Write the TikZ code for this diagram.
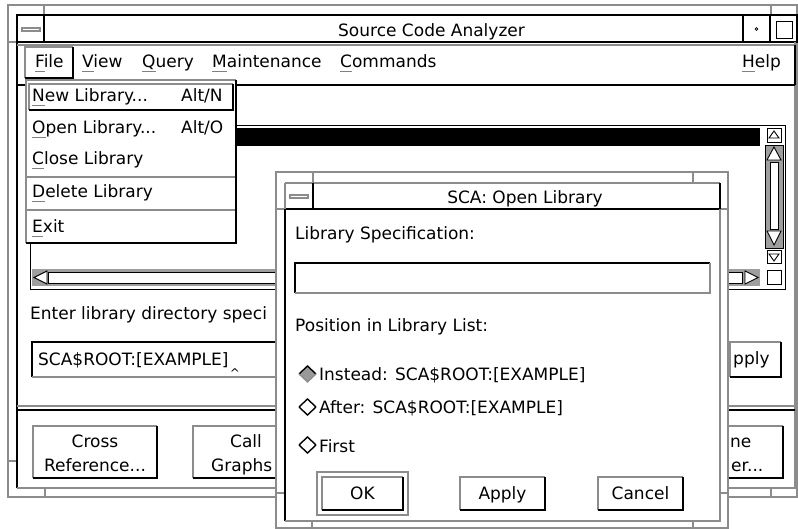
\documentclass[tikz,border=0pt]{standalone}
\usepackage{fontspec}
\setmainfont{DejaVu Sans}
\newcommand\mnem[1]{\sbox0{#1}\rlap{\textcolor{black!50}{\rule[-4.5pt]{\wd0}{1.2pt}}}#1}
\tikzset{
  dk/.style={draw=black, line width=1.4pt},
  lt/.style={draw=black!45, line width=1.2pt},
  thn/.style={draw=black, line width=0.9pt},
  txt/.style={inner sep=0pt, anchor=base west, font=\fontsize{17}{20}\selectfont},
  ctxt/.style={inner sep=0pt, anchor=base, font=\fontsize{17}{20}\selectfont},
  stip/.style={fill=black!38},
}
\begin{document}
\begin{tikzpicture}[x=1pt,y=-1pt]
\useasboundingbox[fill=white] (0,0) rectangle (798,529);

% ---------- main window frame ----------
\draw[lt] (8,5) rectangle (797,497);
\draw[lt] (44,5) -- (44,15) (771,5) -- (771,15) (8,42) -- (17,42)
          (45,488) -- (45,497) (771,488) -- (771,497) (8,461) -- (17,461);
% title bar
\draw[dk] (17,15) rectangle (797,42);
\draw[dk] (44,15) -- (44,42) (743,15) -- (743,42) (770,15) -- (770,42);
\draw[lt] (22,28) rectangle (40,31);
\draw[thn] (776,21) rectangle (792,38);
\draw[line width=0.7pt] (756.5,29) circle (1.3);
\node[txt] (title) at (338,37) {Source Code Analyzer};
% body edges
\draw[dk] (17,42) -- (17,488);
\draw[lt] (17,488) -- (795,488) -- (795,42);

% ---------- menu bar ----------
\draw[lt] (17,45) -- (795,45);
\draw[draw=black, line width=2pt] (17,85) -- (795,85);
\draw[dk] (795,45) -- (795,85);
\draw[lt] (25,78) |- (73,47);
\draw[dk] (25,78) -| (73,47);
\node[txt] (mfile) at (35,68) {\mnem{F}ile};
\node[txt] (mview) at (82,68) {\mnem{V}iew};
\node[txt] (mquery) at (142,68) {\mnem{Q}uery};
\node[txt] (mmaint) at (212,68) {\mnem{M}aintenance};
\node[txt] (mcmd) at (340,68) {\mnem{C}ommands};
\node[txt] (mhelp) at (742,68) {\mnem{H}elp};

% ---------- list area ----------
\draw[thn] (30,125) rectangle (785,289);
\fill[black] (32,128) rectangle (760,146);
% vertical scrollbar
\draw[thn] (767,128) rectangle (781,142);
\draw[thn] (769,138) -- (774,131) -- (779,138) -- cycle;
\fill[stip] (765,145) rectangle (783,248);
\draw[thn] (765,145) rectangle (783,248);
\draw[thn, fill=white] (770,162) rectangle (778,229);
\draw[thn, fill=white] (767,160) -- (774,147) -- (781,160) -- cycle;
\draw[thn, fill=white] (767,231) -- (774,245) -- (781,231) -- cycle;
\draw[thn] (767,250) rectangle (781,263);
\draw[thn] (769,254) -- (774,261) -- (779,254) -- cycle;
\draw[thn] (767,270) rectangle (781,284);
% horizontal scrollbar
\fill[stip] (32,269) rectangle (760,286);
\draw[thn, fill=white] (48,272) rectangle (742,283);
\draw[thn, fill=white] (47,271) -- (34,277.5) -- (47,284) -- cycle;
\draw[thn, fill=white] (745,271) -- (758,277.5) -- (745,284) -- cycle;

% ---------- entry area ----------
\node[txt] (enter) at (30,320) {Enter library directory speci};
\draw[dk] (32,377) |- (300,342);
\draw[lt] (32,377) -- (300,377);
\node[txt] (spec) at (38,365) {SCA\$ROOT:[EXAMPLE]};
\node[inner sep=0pt, font=\fontsize{12}{12}\selectfont] (caret) at (235,373) {\textasciicircum};
\draw[lt] (730,377) |- (781,342);
\draw[dk] (730,377) -| (781,342);
\node[txt] (apply0) at (733,364) {pply};

% separator
\draw[lt] (17,406) -- (795,406);
\draw[draw=black, line width=2pt] (17,410) -- (795,410);

% ---------- bottom buttons ----------
\draw[lt] (33,478) |- (157,426);
\draw[dk] (33,478) -| (157,426);
\node[ctxt] (cr1) at (95,447) {Cross};
\node[ctxt] (cr2) at (95,471) {Reference...};
\draw[lt] (193,478) |- (300,426);
\draw[dk] (193,478) -- (300,478);
\node[txt] (cg1) at (230,447) {Call};
\node[txt] (cg2) at (211,471) {Graphs};
\draw[lt] (700,478) |- (783,426);
\draw[dk] (700,478) -| (783,426);
\node[txt] (vw1) at (730,447) {ne};
\node[txt] (vw2) at (731,471) {er...};

% ---------- dropdown menu ----------
\fill[white] (26,80) rectangle (236,243);
\draw[lt] (26,243) |- (236,80);
\draw[dk] (26,243) -| (236,80);
\draw[lt] (29,110) |- (233,84);
\draw[dk] (29,110) -| (233,84);
\node[txt] (inew) at (32,102) {\mnem{N}ew Library...};
\node[txt] (anew) at (181,102) {Alt/N};
\node[txt] (iopen) at (32,134) {\mnem{O}pen Library...};
\node[txt] (aopen) at (181,134) {Alt/O};
\node[txt] (iclose) at (32,165) {\mnem{C}lose Library};
\draw[lt] (27,177) -- (235,177);
\node[txt] (idel) at (32,198) {\mnem{D}elete Library};
\draw[lt] (27,210) -- (235,210);
\node[txt] (iexit) at (32,233) {\mnem{E}xit};

% ---------- dialog ----------
\fill[white] (276,172) rectangle (728,529);
\draw[lt] (276,172) rectangle (728,528);
\draw[lt] (313,172) -- (313,183) (693,172) -- (693,183) (276,209) -- (285,209)
          (720,209) -- (728,209) (312,521) -- (312,528) (693,521) -- (693,528)
          (276,493) -- (285,493) (720,493) -- (728,493);
\draw[lt] (285,183) -- (720,183);
\draw[dk] (285,521) |- (720,209) -- (720,183);
\draw[lt] (285,183) -- (285,209) (720,209) -- (720,521) -- (285,521);
\draw[dk] (313,183) -- (313,209);
\draw[lt] (290,195) rectangle (308,198);
\node[ctxt] (dtitle) at (525,204) {SCA: Open Library};
\node[txt] (libspec) at (295,240) {Library Specification:};
\draw[dk] (295,293) |- (710,263);
\draw[lt] (295,293) -| (710,263);
\node[txt] (pos) at (295,331) {Position in Library List:};
% radio diamonds
\fill[black!40] (299,374) -- (307.5,366) -- (316,374) -- (307.5,382) -- cycle;
\draw[dk] (299,374) -- (307.5,366) -- (316,374);
\draw[lt] (299,374) -- (307.5,382) -- (316,374);
\node[txt] (rinst) at (319,381) {Instead: SCA\$ROOT:[EXAMPLE]};
\draw[dk] (299,407) -- (307.5,399) -- (316,407);
\draw[dk] (299,407) -- (307.5,415) -- (316,407);
\node[txt] (raft) at (319,413) {After: SCA\$ROOT:[EXAMPLE]};
\draw[dk] (299,445) -- (307.5,437) -- (316,445);
\draw[dk] (299,445) -- (307.5,453) -- (316,445);
\node[txt] (rfirst) at (319,452) {First};
% buttons
\draw[lt] (317,472) rectangle (408,515);
\draw[lt] (322,510) |- (403,477);
\draw[dk] (322,510) -| (403,477);
\node[ctxt] (ok) at (362.5,499) {OK};
\draw[lt] (460,510) |- (545,477);
\draw[dk] (460,510) -| (545,477);
\node[ctxt] (apply) at (502.5,499) {Apply};
\draw[lt] (598,510) |- (683,477);
\draw[dk] (598,510) -| (683,477);
\node[ctxt] (cancel) at (640.5,499) {Cancel};
\end{tikzpicture}
\end{document}
